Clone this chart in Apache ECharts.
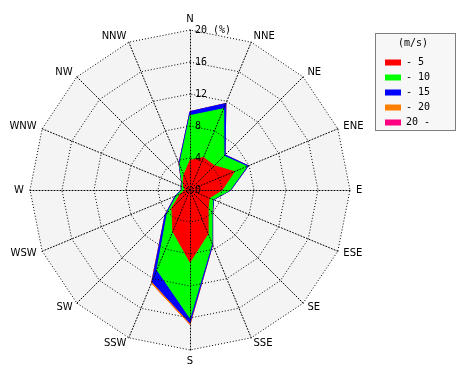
<!DOCTYPE html>
<html><head><meta charset="utf-8">
<script src="https://cdn.jsdelivr.net/npm/echarts@6/dist/echarts.min.js"></script>
<style>html,body{margin:0;padding:0;background:#fff}#c{width:470px;height:380px}</style>
</head><body><div id="c"></div>
<script>
// wind directions, clockwise from North
const directions = ['N','NNE','NE','ENE','E','ESE','SE','SSE','S','SSW','SW','WSW','W','WNW','NW','NNW'];
// wind speed classes (m/s)
const speedClasses = ['- 5','- 10','- 15','- 20','20 -'];
// frequency (%) of each speed class per direction
const freq5   = [3.7,4.4,4.3,6.0,4.0,2.6,3.2,5.9,9.0,5.6,3.2,1.3,0.6,0.8,1.2,2.0];
const freq10  = [5.6,6.6,1.7,1.7,1.0,0.5,0.7,1.3,7.0,5.2,0.8,0.5,0.4,0.3,0.2,1.4];
const freq15  = [0.5,0.7,0.2,0.2,0.1,0.1,0.1,0.2,0.6,1.6,0.4,0.2,0.1,0.1,0.1,0.2];
const freq20  = [0,0,0,0,0,0,0,0,0.2,0.2,0,0,0,0,0,0];
const freq20p = [0,0,0,0,0,0,0,0,0,0,0,0,0,0,0,0];
// radial tick labels
const tickLabels = ['0','4','8','12','16','20 (%)'];
const colors = ['#ff0000','#00ff00','#0000ff','#ff8000','#ff0080'];

const classes = [freq5,freq10,freq15,freq20,freq20p];
const cum = [];
let run = directions.map(() => 0);
classes.forEach(c => { run = run.map((v,i) => v + c[i]); cum.push(run.slice()); });

// ECharts radar lays indicators counter-clockwise: reverse the order after N
const order = [0].concat(directions.map((d,i) => i).slice(1).reverse());
function makeIndicators(withLabel) {
  return order.map((i,k) => {
    const o = {name: directions[i], min: 0, max: 20};
    if (withLabel && k === 0) {
      o.axisLabel = {show: true, color:'#000', fontFamily:'DejaVu Sans Mono', fontSize:10,
        align: 'left', margin: -5, padding: [0,0,6,0],
        formatter: (v) => tickLabels[Math.round(v/4)]};
    }
    return o;
  });
}

const base = {center: [190,190], radius: 160, startAngle: 90, shape: 'polygon', splitNumber: 5};
const dotted = {color:'#000', width:1, type:[1,2]};

const chart = echarts.init(document.getElementById('c'), null, {renderer:'canvas'});
chart.setOption({
  animation: false,
  backgroundColor: '#ffffff',
  radar: [
    Object.assign({}, base, {
      z: 1, indicator: makeIndicators(false),
      axisName: {show: false},
      splitLine: {show: false},
      splitArea: {show: true, areaStyle: {color: ['#f4f4f4']}},
      axisLine: {show: false}, axisTick: {show: false}, axisLabel: {show: false}
    }),
    Object.assign({}, base, {
      z: 5, indicator: makeIndicators(true),
      nameGap: 6,
      axisName: {color:'#000', fontFamily:'DejaVu Sans', fontSize:10},
      splitLine: {lineStyle: dotted},
      splitArea: {show: false},
      axisLine: {lineStyle: dotted},
      axisTick: {show: false},
      axisLabel: {show: false}
    })
  ],
  legend: {
    orient: 'vertical', left: 380, top: 52, itemWidth: 16, itemHeight: 6, itemGap: 4,
    icon: 'rect', selectedMode: false, data: speedClasses,
    textStyle: {fontFamily:'DejaVu Sans Mono', fontSize:10, color:'#000', lineHeight:11}
  },
  graphic: [
    {type:'rect', left:375, top:33, shape:{width:80, height:97},
     style:{fill:'#f7f7f7', stroke:'#000', lineWidth:1, lineDash:[1,1]}, z:-1},
    {type:'text', left:398, top:38, style:{text:'(m/s)', fill:'#000', font:'10px "DejaVu Sans Mono"'}}
  ],
  series: [{
    type: 'radar', radarIndex: 0, symbol: 'none', silent: true, z: 2,
    data: cum.map((arr,i) => ({
      name: speedClasses[i],
      value: order.map(j => arr[j]),
      areaStyle: {color: colors[i], opacity: 1},
      lineStyle: {color: colors[i], width: 1},
      itemStyle: {color: colors[i]}
    })).reverse()
  }]
});
</script></body></html>
